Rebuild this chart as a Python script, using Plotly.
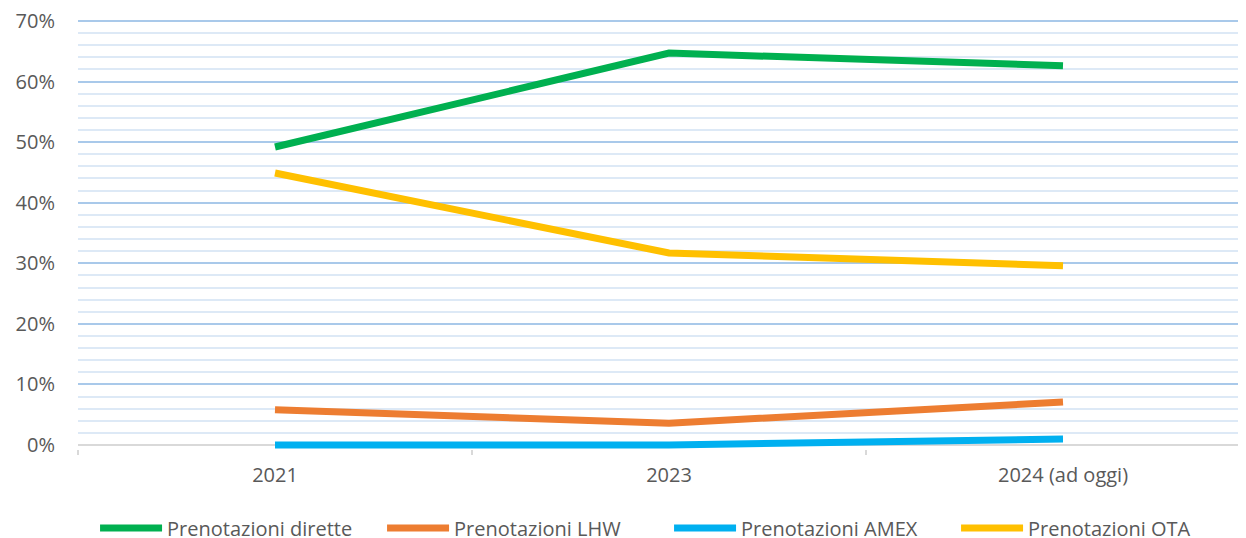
import plotly.graph_objects as go

categories = ["2021", "2023", "2024 (ad oggi)"]
dirette = [0.492, 0.647, 0.626]
lhw = [0.058, 0.036, 0.071]
amex = [0.0, 0.0, 0.010]
ota = [0.449, 0.317, 0.296]

series = [
    ("Prenotazioni dirette", dirette, "#00B050"),
    ("Prenotazioni LHW", lhw, "#ED7D31"),
    ("Prenotazioni AMEX", amex, "#00B0F0"),
    ("Prenotazioni OTA", ota, "#FFC000"),
]

FONT = "'Open Sans', Lato, sans-serif"
GREY = "#595959"
FS = 20

fig = go.Figure()
for name, vals, color in series:
    fig.add_trace(go.Scatter(
        x=categories, y=vals, name=name, mode="lines",
        line=dict(color=color, width=7), cliponaxis=False,
    ))

# page body has an 8px margin, so the figure is offset by 8px
W, H = 1238, 530
left, top, bottom = 70, 11, 89
plot_w_full = 1182  # plot extends past right edge
visible = W - left
xmax = -0.5 + 3 * visible / plot_w_full

fig.update_layout(
    width=W, height=H,
    margin=dict(l=left, r=0, t=top, b=bottom, autoexpand=False),
    paper_bgcolor="white", plot_bgcolor="white",
    font=dict(family=FONT, size=FS, color=GREY),
    showlegend=True,
    legend=dict(orientation="h", x=0.0146, xanchor="left", y=-0.1837, yanchor="middle",
                font=dict(size=FS, color=GREY), itemwidth=62, tracegroupgap=0,
                entrywidth=210, entrywidthmode="pixels"),
    xaxis=dict(
        type="category", range=[-0.5, xmax], tickson="boundaries",
        ticks="outside", ticklen=5, tickcolor="#d9d9d9", tickwidth=1.5,
        showline=False, showgrid=False, zeroline=False, ticklabelstandoff=12,
        tickfont=dict(size=FS, color=GREY), automargin=False,
    ),
    yaxis=dict(
        range=[-0.0066, 0.7033], dtick=0.1, tick0=0, tickformat=".0%",
        showgrid=True, gridcolor="#a9c9ea", gridwidth=1.5,
        minor=dict(dtick=0.02, tick0=0, showgrid=True, gridcolor="#dde9f6", gridwidth=1.5),
        zeroline=True, zerolinecolor="#d9d9d9", zerolinewidth=2,
        showline=False, ticks="", ticklabelstandoff=22, ticklabeloverflow="allow",
        tickfont=dict(size=FS, color=GREY), automargin=False,
    ),
)

fig.write_html("out.html")
